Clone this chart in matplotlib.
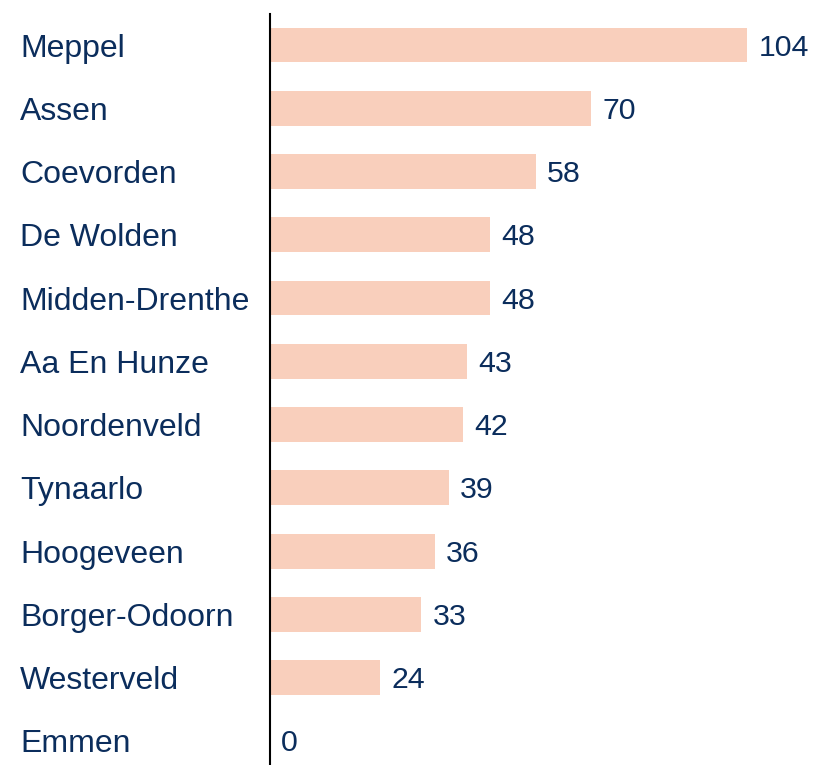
import matplotlib.pyplot as plt

plt.rcParams['font.family'] = ['Liberation Sans', 'DejaVu Sans']

gemeenten = ['Meppel', 'Assen', 'Coevorden', 'De Wolden', 'Midden-Drenthe',
             'Aa En Hunze', 'Noordenveld', 'Tynaarlo', 'Hoogeveen',
             'Borger-Odoorn', 'Westerveld', 'Emmen']
waarden = [104, 70, 58, 48, 48, 43, 42, 39, 36, 33, 24, 0]

tekstkleur = '#0b2d5c'
balkkleur = '#f9cfbc'

fig = plt.figure(figsize=(8.14, 7.65), dpi=100)
# axes starts at the vertical line, runs to right edge
ax = fig.add_axes([270 / 814, 0, 544 / 814, 1 - 14 / 765])

pos = list(range(len(gemeenten)))
ax.barh(pos, waarden, height=0.55, color=balkkleur)

for i, v in enumerate(waarden):
    ax.text(v + 2.4, i + 0.04, str(v), va='center', ha='left', fontsize=21.8, color=tekstkleur)

ax.set_xlim(0, 544 / 4.59)
ax.set_ylim(len(gemeenten) - 1 + 0.38, -0.49)

ax.set_yticks(pos)
ax.set_yticklabels(gemeenten, fontsize=23, color=tekstkleur, ha='left')
# pad in points: 250 px from the axis line at dpi 100
ax.tick_params(axis='y', length=0, pad=250 * 72 / 100)
ax.set_xticks([])

for s in ['top', 'right', 'bottom']:
    ax.spines[s].set_visible(False)
ax.spines['left'].set_linewidth(1.5)
ax.spines['left'].set_color('black')

fig.savefig('out.png', dpi=100)
